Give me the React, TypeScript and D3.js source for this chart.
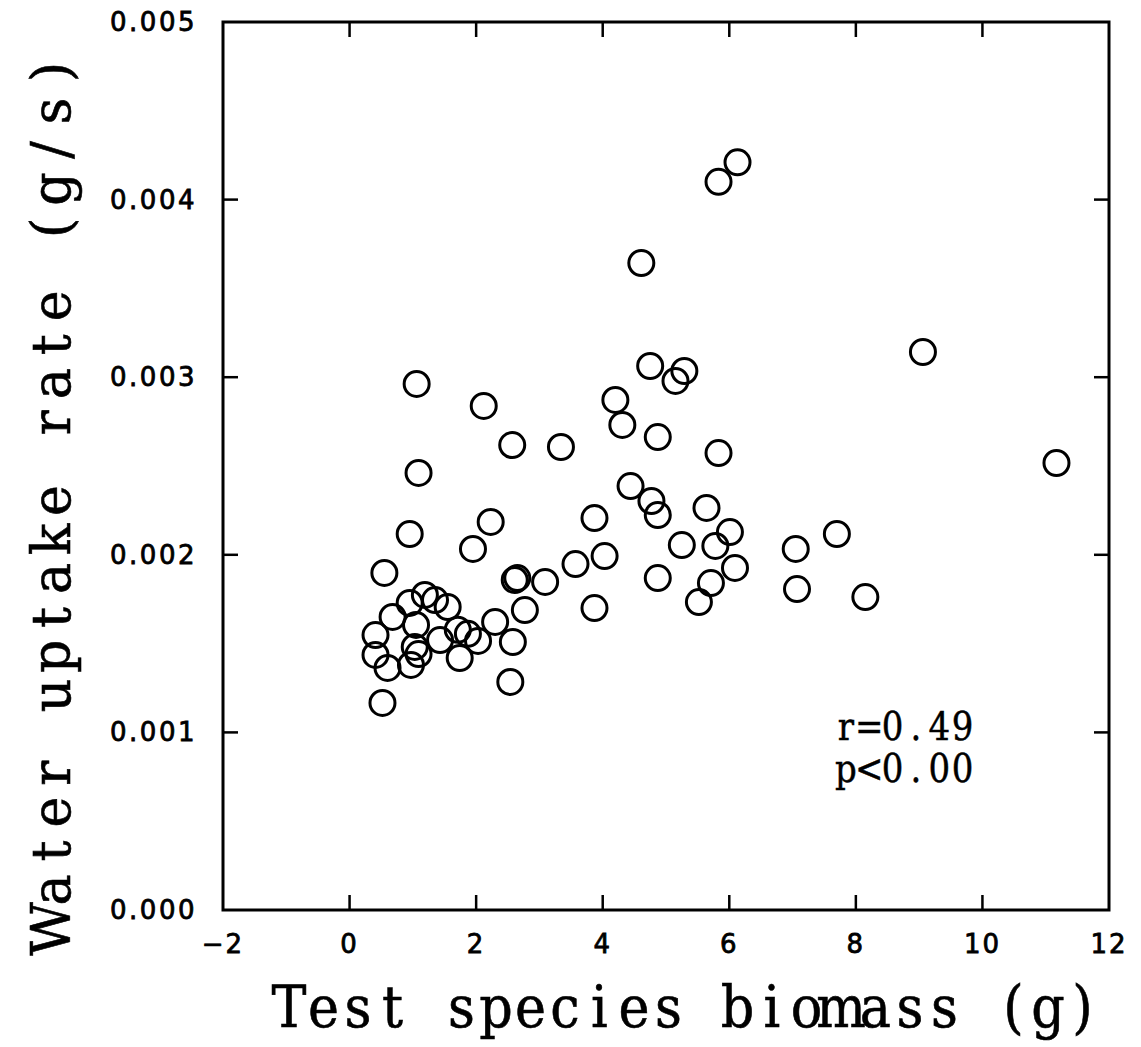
import React, { useMemo } from "react";
import * as d3 from "d3";

const biomass = [
  5.83, 6.13, 4.61, 4.75, 5.29, 5.15, 4.20, 4.31, 4.87, 3.34,
  5.83, 4.44, 4.77, 4.87, 5.64, 3.87, 6.01, 5.78, 5.25, 4.03,
  3.57, 3.09, 6.09, 5.71, 4.87, 5.52, 3.87, 7.05, 7.07, 9.06,
  11.17, 7.70, 8.15, 1.06, 2.12, 2.57, 1.09, 0.95, 2.23, 1.95,
  0.55, 2.61, 2.65, 2.77, 0.95, 1.19, 1.35, 1.55, 0.68, 2.30,
  0.41, 1.05, 2.58, 1.43, 1.71, 1.87, 2.03, 1.03, 1.09, 0.41,
  0.60, 0.97, 1.74, 2.54, 0.52,
];
const uptake = [
  0.00410, 0.00421, 0.003643, 0.003063, 0.003035, 0.002979, 0.002872, 0.002731, 0.002663, 0.002607,
  0.002573, 0.002387, 0.002303, 0.002224, 0.002264, 0.002207, 0.002128, 0.002050, 0.002055, 0.001993,
  0.001948, 0.001847, 0.001926, 0.001841, 0.001869, 0.001734, 0.001700, 0.002033, 0.001807, 0.003142,
  0.002517, 0.002117, 0.001762, 0.002962, 0.002838, 0.002618, 0.002461, 0.002117, 0.002185, 0.002033,
  0.001898, 0.001858, 0.001869, 0.001689, 0.001729, 0.001774, 0.001745, 0.001706, 0.001650, 0.001622,
  0.001548, 0.001605, 0.001509, 0.001520, 0.001578, 0.001555, 0.001515, 0.001481, 0.001441, 0.001436,
  0.001363, 0.001380, 0.001419, 0.001284, 0.001166,
];
const xTicks = [-2, 0, 2, 4, 6, 8, 10, 12];
const yTicks = [0, 0.001, 0.002, 0.003, 0.004, 0.005];
const xTitle = "Test species biomass (g)";
const yTitle = "Water uptake rate (g/s)";
const statLines = ["r=0.49", "p<0.00"];

const SERIF = "'DejaVu Serif', 'Liberation Serif', serif";

let measureCtx: CanvasRenderingContext2D | null = null;
function charStarts(text: string, size: number, first: number, pitch: number, sx: number): string {
  if (!measureCtx && typeof document !== "undefined") {
    measureCtx = document.createElement("canvas").getContext("2d");
  }
  const ctx = measureCtx;
  if (ctx) ctx.font = `${size}px ${SERIF}`;
  return text
    .split("")
    .map((ch, i) => {
      const w = ctx ? ctx.measureText(ch).width : size * 0.6;
      return ((first + i * pitch) / sx - w / 2).toFixed(2);
    })
    .join(" ");
}

// Monospaced layout of serif glyphs in a single text element.
function MonoText({ text, tx, ty, rotate = 0, first, pitch, size, sx = 1, sw = 1 }: any) {
  const xs = useMemo(() => charStarts(text, size, first, pitch, sx), [text, size, first, pitch, sx]);
  return (
    <text
      transform={`translate(${tx},${ty}) rotate(${rotate}) scale(${sx},1)`}
      x={xs}
      y={0}
      fontFamily={SERIF}
      fontSize={size}
      fill="#000"
      stroke="#000"
      strokeWidth={sw}
      style={{ whiteSpace: "pre" }}
    >
      {text}
    </text>
  );
}

export default function App() {
  const W = 1141, H = 1047;
  const x = d3.scaleLinear().domain([-2, 12]).range([223, 1109]);
  const y = d3.scaleLinear().domain([0, 0.005]).range([910, 22]);
  const [x0, x1] = x.range();
  const [y0, y1] = y.range();
  const tl = 15;
  const sans = "'DejaVu Sans', Arial, sans-serif";
  return (
    <svg width={W} height={H} style={{ position: "absolute", left: 0, top: 0, background: "#fff" }}>
      <rect x={0} y={0} width={W} height={H} fill="#fff" />
      {xTicks.slice(1, -1).map((t) => (
        <g key={"xt" + t} stroke="#000" strokeWidth={2.5}>
          <line x1={x(t)} x2={x(t)} y1={y0} y2={y0 - tl} />
          <line x1={x(t)} x2={x(t)} y1={y1} y2={y1 + tl} />
        </g>
      ))}
      {yTicks.slice(1, -1).map((t) => (
        <g key={"yt" + t} stroke="#000" strokeWidth={2.5}>
          <line x1={x0} x2={x0 + tl} y1={y(t)} y2={y(t)} />
          <line x1={x1} x2={x1 - tl} y1={y(t)} y2={y(t)} />
        </g>
      ))}
      <rect x={x0} y={y1} width={x1 - x0} height={y0 - y1} fill="none" stroke="#000" strokeWidth={3} />
      {xTicks.map((t) => (
        <text key={"xl" + t} x={x(t)} y={953} textAnchor="middle" fontFamily={sans} fontSize={26}
          letterSpacing={2} fill="#000" stroke="#000" strokeWidth={0.8}>
          {t < 0 ? "\u2212" + Math.abs(t) : String(t)}
        </text>
      ))}
      {yTicks.map((t) => (
        <text key={"yl" + t} x={197} y={y(t) + 9} textAnchor="end" fontFamily={sans} fontSize={26}
          letterSpacing={2.5} fill="#000" stroke="#000" strokeWidth={0.8}>
          {t.toFixed(3)}
        </text>
      ))}
      {biomass.map((b, i) => (
        <circle key={"p" + i} cx={x(b)} cy={y(uptake[i])} r={12.5} fill="none" stroke="#000" strokeWidth={3} />
      ))}
      {statLines.map((s, i) => (
        <MonoText key={"s" + i} text={s} tx={0} ty={740 + i * 42} first={846} pitch={23.3} size={40} sx={0.85} sw={0.5} />
      ))}
      <MonoText text={xTitle} tx={0} ty={1027} first={289} pitch={34.5} size={57} sx={0.92} sw={0.6} />
      <MonoText text={yTitle} tx={70} ty={0} rotate={-90} first={-929} pitch={38.95} size={55} sx={0.95} sw={0.6} />
    </svg>
  );
}
